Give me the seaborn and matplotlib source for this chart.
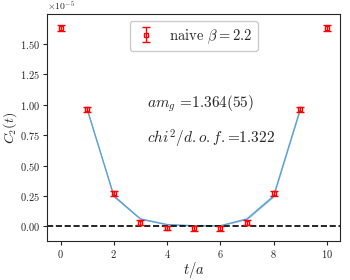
import numpy as np
import pandas as pd
import matplotlib
matplotlib.use("Agg")
import matplotlib.pyplot as plt
import seaborn as sns

t = [0, 1, 2, 3, 4, 5, 6, 7, 8, 9, 10]
c2 = [1.63, 0.962, 0.272, 0.03, -0.012, -0.015, -0.015, 0.03, 0.272, 0.962, 1.63]
c2_err = [0.022, 0.02, 0.02, 0.02, 0.02, 0.02, 0.02, 0.02, 0.02, 0.02, 0.022]

t_fit = [1, 2, 3, 4, 5, 6, 7, 8, 9]
fit = [0.962, 0.25, 0.062, 0.016, 0.006, 0.006, 0.062, 0.25, 0.962]
fit_err = [0.008, 0.01, 0.006, 0.003, 0.002, 0.002, 0.006, 0.01, 0.008]

sns.set_style("ticks")
plt.rcParams["font.family"] = ["cmr10", "DejaVu Serif"]
plt.rcParams["mathtext.fontset"] = "cm"
plt.rcParams["axes.unicode_minus"] = False
plt.rcParams["axes.formatter.use_mathtext"] = True

fig, ax = plt.subplots(figsize=(3.5, 2.8), dpi=100)
fig.subplots_adjust(left=0.135, right=0.972, top=0.95, bottom=0.138)

scale = 1e-5
df = pd.DataFrame({"t": t_fit, "fit": np.array(fit) * scale})
lo = (np.array(fit) - np.array(fit_err)) * scale
hi = (np.array(fit) + np.array(fit_err)) * scale
ax.fill_between(t_fit, lo, hi, color="#5b9fd3", alpha=0.6, lw=0)
sns.lineplot(data=df, x="t", y="fit", ax=ax, color="#5b9fd3", lw=1.0)

ax.errorbar(t, np.array(c2) * scale, yerr=np.array(c2_err) * scale, fmt="s",
            color="red", mfc="none", ms=3, capsize=3, elinewidth=1, capthick=1,
            label=r"naive $\beta=2.2$", zorder=5)
ax.axhline(0, color="black", ls="--", lw=1.2)

ax.set_xlim(-0.5, 10.5)
ax.set_ylim(-0.122e-5, 1.744e-5)
ax.set_xticks([0, 2, 4, 6, 8, 10])
ax.set_yticks(np.array([0, 0.25, 0.5, 0.75, 1.0, 1.25, 1.5]) * scale)
ax.tick_params(labelsize=7.5, length=3, pad=2)
ax.set_xlabel(r"$t/a$", fontsize=10.5, labelpad=0)
ax.set_ylabel(r"$C_2(t)$", fontsize=10, labelpad=1)
ax.yaxis.get_offset_text().set_fontsize(7)

ax.text(0.34, 0.59, r"$am_g$ =1.364(55)", transform=ax.transAxes, fontsize=11)
ax.text(0.34, 0.43, r"$chi^2/d.o.f.$=1.322", transform=ax.transAxes, fontsize=11)

ax.legend(loc="upper center", fontsize=10.5, handlelength=1.5, framealpha=1)

fig.savefig("out.png", dpi=100)
